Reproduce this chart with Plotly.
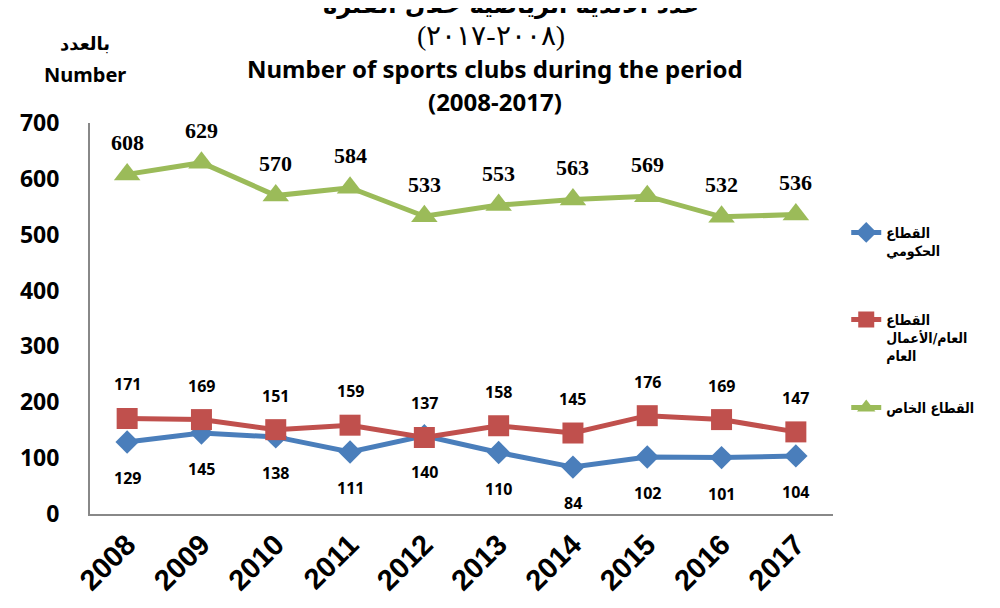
import plotly.graph_objects as go

years = ["2008", "2009", "2010", "2011", "2012", "2013", "2014", "2015", "2016", "2017"]
gov = [129, 145, 138, 111, 140, 110, 84, 102, 101, 104]
public = [171, 169, 151, 159, 137, 158, 145, 176, 169, 147]
private = [608, 629, 570, 584, 533, 553, 563, 569, 532, 536]

names = ["القطاع<br>الحكومي", "القطاع<br>العام/الأعمال<br>العام", "القطاع الخاص"]
colors = ["#4A7EBB", "#C0504D", "#9BBB59"]
symbols = ["diamond", "square", "triangle-up"]
msizes = [18, 21, 23]
legends = ["legend", "legend2", "legend3"]
legend_y = [0.652, 0.507, 0.36]

fig = go.Figure()
for i, vals in enumerate([gov, public, private]):
    fig.add_trace(go.Scatter(
        x=years, y=vals, name=names[i], mode="lines+markers",
        line=dict(color=colors[i], width=5),
        marker=dict(symbol=symbols[i], size=msizes[i], color=colors[i]),
        legend=legends[i],
    ))

# data labels
for i, v in enumerate(gov):
    fig.add_annotation(x=i, y=v, text=str(v), showarrow=False, yshift=-36,
                       font=dict(family="Noto Sans", size=16, color="black", weight="bold"))
for i, v in enumerate(public):
    fig.add_annotation(x=i, y=v, text=str(v), showarrow=False, yshift=34,
                       font=dict(family="Noto Sans", size=16, color="black", weight="bold"))
for i, v in enumerate(private):
    fig.add_annotation(x=i, y=v, text=str(v), showarrow=False, yshift=32,
                       font=dict(family="Liberation Serif", size=22, color="black", weight="bold"))

# titles
fig.add_annotation(xref="paper", yref="paper", x=0.566, y=1.302, yanchor="middle",
                   text="عدد الأندية الرياضية خلال الفترة", showarrow=False,
                   font=dict(family="DejaVu Sans", size=24, color="black", weight="bold"))
fig.add_annotation(xref="paper", yref="paper", x=0.54, y=1.223, yanchor="middle",
                   text="(٢٠٠٨-٢٠١٧)", showarrow=False,
                   font=dict(family="Liberation Serif", size=28, color="black"))
fig.add_annotation(xref="paper", yref="paper", x=0.545, y=1.140, yanchor="middle",
                   text="Number of sports clubs during the period", showarrow=False,
                   font=dict(family="Noto Sans", size=24, color="black", weight="bold"))
fig.add_annotation(xref="paper", yref="paper", x=0.545, y=1.056, yanchor="middle",
                   text="(2008-2017)", showarrow=False,
                   font=dict(family="Noto Sans", size=24, color="black", weight="bold"))
fig.add_annotation(xref="paper", yref="paper", x=-0.0067, y=1.203, xanchor="center",
                   yanchor="middle", text="بالعدد", showarrow=False,
                   font=dict(family="DejaVu Sans", size=18, color="black", weight="bold"))
fig.add_annotation(xref="paper", yref="paper", x=-0.0067, y=1.124, xanchor="center",
                   yanchor="middle", text="Number", showarrow=False,
                   font=dict(family="Noto Sans", size=20, color="black", weight="bold"))

leg_font = dict(family="DejaVu Sans Condensed, DejaVu Sans", size=14, color="black",
                weight="bold")
fig.update_layout(
    width=992, height=600,
    margin=dict(l=80, r=167, t=115, b=91),
    plot_bgcolor="white", paper_bgcolor="white",
    showlegend=True,
    xaxis=dict(type="category", range=[-0.5, 9.5], showgrid=False, showline=True,
               linecolor="#888888", linewidth=2, tickangle=-45, ticks="",
               tickfont=dict(family="Liberation Sans", size=29, color="black", weight="bold")),
    yaxis=dict(range=[0, 700], dtick=100, showgrid=False, showline=True, linecolor="#888888",
               linewidth=2, ticks="", zeroline=False, ticklabelstandoff=24,
               tickfont=dict(family="Noto Sans", size=23, color="black", weight="bold")),
)
for name, ly in zip(legends, legend_y):
    fig.update_layout({name: dict(xref="container", yref="container", x=0.845, y=ly,
                                  xanchor="left", yanchor="top", valign="top",
                                  font=leg_font, bgcolor="rgba(0,0,0,0)")})

fig.write_html("out.html")
